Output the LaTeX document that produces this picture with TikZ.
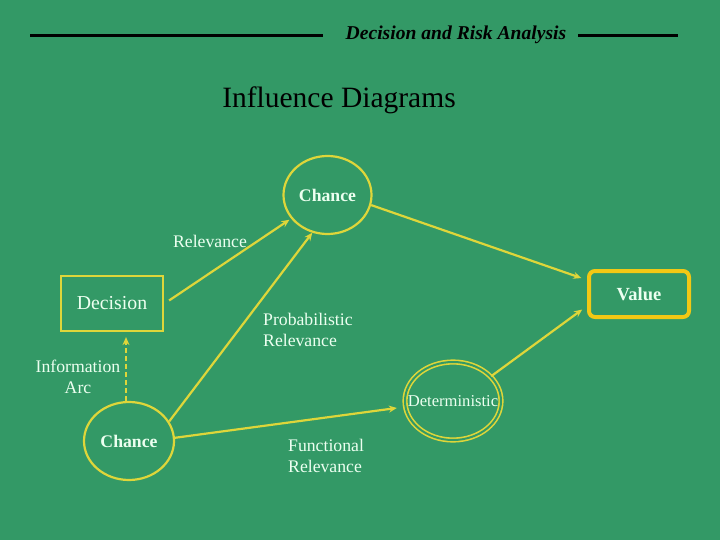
\documentclass[tikz,border=0pt]{standalone}
\usepackage{fontspec}
\setmainfont{Liberation Serif}
\usetikzlibrary{shapes.geometric,arrows.meta}
\definecolor{bg}{RGB}{51,153,102}
\definecolor{ylw}{RGB}{222,214,58}
\definecolor{gold}{RGB}{242,200,20}
\definecolor{txt}{RGB}{236,255,240}
\tikzset{
  lbl/.style={text=txt, font=\fontsize{17.7}{20.5}\selectfont, inner sep=0pt},
  chancenode/.style={ellipse, draw=ylw, line width=2.2pt, inner sep=0pt, text=txt, font=\fontsize{17.7}{20}\selectfont\bfseries},
  arr/.style={draw=ylw, line width=2.2pt, -{Stealth[length=8pt,width=7pt]}},
}
\begin{document}
\begin{tikzpicture}[x=1pt,y=-1pt]
\fill[bg] (0,0) rectangle (720,540);
\useasboundingbox (0,0) rectangle (720,540);
% header
\draw[line width=3pt] (30,36) -- (323,36);
\draw[line width=3pt] (578,36) -- (678,36);
\node[inner sep=0pt, font=\fontsize{19.6}{21}\selectfont\bfseries\itshape] (hdr) at (456,35) {Decision and Risk Analysis};
\node[inner sep=0pt, font=\fontsize{29.5}{32}\selectfont] (title) at (339,100) {Influence Diagrams};
% nodes
\node[chancenode, minimum width=88pt, minimum height=78pt] (tc) at (327.5,195) {Chance};
\node[chancenode, minimum width=90pt, minimum height=78pt] (bc) at (129,441) {Chance};
\node[draw=ylw, line width=2.2pt, minimum width=102pt, minimum height=55pt, inner sep=0pt, text=txt, font=\fontsize{19.8}{22}\selectfont] (dec) at (112,303.5) {Decision};
\node[draw=gold, line width=4pt, rounded corners=6pt, minimum width=100pt, minimum height=46pt, inner sep=0pt, text=txt, font=\fontsize{18.5}{20}\selectfont\bfseries] (val) at (639,294) {Value};
\node[ellipse, draw=ylw, line width=1.6pt, double=bg, double distance=2pt, minimum width=96pt, minimum height=78pt, inner sep=0pt, text=txt, font=\fontsize{16.6}{18}\selectfont] (det) at (453,401) {\makebox[0pt]{Deterministic}};
% labels
\node[lbl] (l1) at (210,241) {Relevance};
\node[lbl, align=left, anchor=west] (l2) at (263,330) {Probabilistic\\Relevance};
\node[lbl, align=center] (l3) at (78,377) {Information\\Arc};
\node[lbl, align=left, anchor=west] (l4) at (288,456) {Functional\\Relevance};
% connectors
\draw[arr, shorten >=2pt] ([shift={(5pt,3pt)}]dec.east) -- (tc.213);
\draw[arr] (bc.26) -- (tc.248);
\draw[arr, shorten >=6pt] (tc.347) -- ([yshift=14pt]val.west);
\draw[arr, shorten >=6pt] (det.33) -- ([yshift=-12pt]val.west);
\draw[arr, shorten >=8pt] (bc.4) -- (det.187);
\draw[arr, dashed, dash pattern=on 5pt off 3pt, shorten >=5pt] ([xshift=-3pt]bc.north) -- ([xshift=-3pt]bc.north |- dec.south);
\end{tikzpicture}
\end{document}
